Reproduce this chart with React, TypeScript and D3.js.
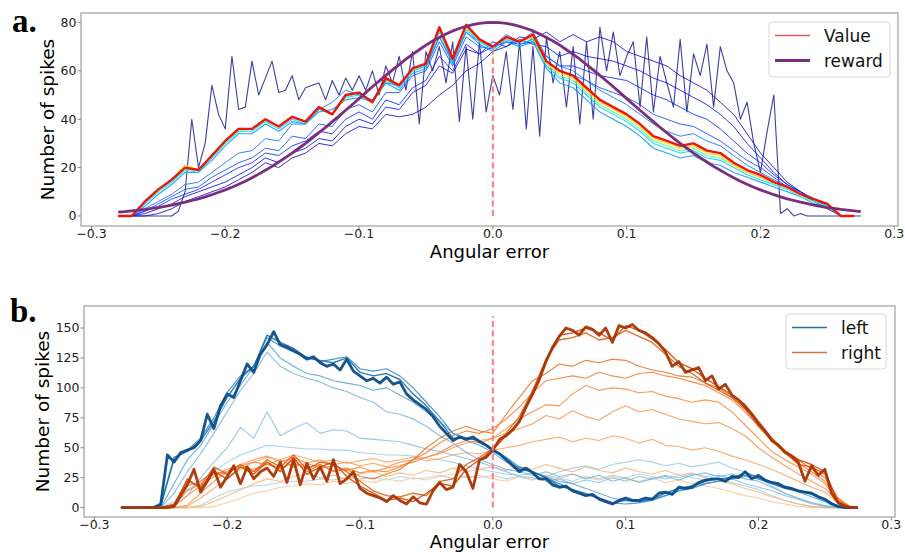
import React from "react";
import * as d3 from "d3";

const W = 905;
const H = 552;
const FONT = "DejaVu Sans, sans-serif";
const SERIF = "Liberation Serif, DejaVu Serif, serif";

// bins: coarse series every 0.01, fine series every 0.005, both from -0.28
const BIN_START = -0.28;
const COARSE = 0.01;
const FINE = 0.005;
const X_DOMAIN: [number, number] = [-0.3078, 0.3028];

const xTicks = [-0.3, -0.2, -0.1, 0.0, 0.1, 0.2, 0.3];
const spikeTicksA = [0, 20, 40, 60, 80];
const spikeTicksB = [0, 25, 50, 75, 100, 125, 150];

// ---- panel a: value curves over training (jet colours) ----
const valueNavy = [
  0, 0, 0, 0, 0, 0, 0, 0, 0, 2,
  10, 40, 20, 30, 54, 42, 36, 66, 44, 45,
  64, 50, 57, 64, 51, 52, 58, 48, 53, 54,
  55, 48, 56, 50, 57, 52, 58, 52, 60, 50,
  62, 55, 66, 52, 68, 38, 68, 60, 70, 55,
  72, 39, 70, 40, 72, 43, 58, 50, 68, 44,
  72, 36, 70, 33, 74, 55, 68, 45, 70, 38,
  72, 40, 78, 60, 76, 58, 66, 72, 45, 74,
  43, 66, 55, 45, 73, 43, 67, 58, 71, 45,
  70, 60, 55, 40, 47, 30, 18, 35, 50, 1,
  3, 0, 1, 0, 0, 0, 0, 0, 0, 0,
  0, 0,
];
const valueBlue1 = [
  0, 0, 0, 1, 3, 6, 8, 10, 12, 15,
  18, 22, 20, 24, 26, 30, 29, 34, 37, 36,
  42, 41, 42, 45, 50, 54, 60, 63, 68, 70,
  74, 73, 76, 72, 75, 72, 74, 72, 68, 66,
  64, 62, 58, 55, 52, 47, 42, 34, 26, 20,
  14, 10, 6, 3, 0, 0,
];
const valueBlue2 = [
  0, 0, 1, 3, 5, 8, 10, 12, 14, 17,
  20, 24, 22, 26, 28, 32, 31, 37, 40, 38,
  45, 44, 51, 54, 62, 59, 69, 67, 72, 70,
  73, 71, 70, 66, 68, 66, 65, 64, 62, 60,
  57, 55, 52, 49, 46, 42, 37, 30, 24, 18,
  13, 10, 6, 4, 0, 0,
];
const valueBlue3 = [
  0, 0, 2, 4, 7, 9, 11, 14, 17, 20,
  22, 26, 25, 29, 31, 35, 34, 40, 43, 40,
  48, 46, 53, 56, 66, 60, 71, 67, 70, 72,
  71, 72, 66, 62, 62, 60, 58, 57, 56, 53,
  50, 48, 45, 42, 40, 36, 31, 26, 22, 17,
  13, 10, 7, 4, 0, 0,
];
const valueBlue4 = [
  0, 0, 2, 5, 8, 11, 12, 16, 19, 22,
  24, 28, 27, 33, 32, 38, 37, 44, 46, 43,
  51, 51, 58, 60, 72, 62, 74, 70, 69, 73,
  71, 73, 64, 60, 58, 56, 53, 51, 49, 46,
  42, 40, 38, 37, 34, 31, 27, 23, 20, 16,
  12, 10, 7, 4, 0, 0,
];
const valueBlue5 = [
  0, 0, 3, 6, 9, 13, 14, 18, 22, 26,
  27, 32, 31, 38, 38, 44, 47, 52, 50, 48,
  55, 54, 60, 62, 74, 64, 76, 72, 70, 75,
  72, 76, 66, 62, 60, 56, 52, 49, 46, 42,
  38, 35, 33, 34, 31, 29, 25, 21, 18, 15,
  12, 9, 6, 4, 0, 0,
];
const valueLightBlue = [
  0, 0, 4, 9, 13, 18, 18, 23, 29, 34,
  34, 38, 35, 39, 38, 43, 44, 48, 49, 47,
  55, 52, 59, 61, 74, 63, 76, 71, 68, 72,
  70, 72, 61, 55, 53, 48, 43, 40, 37, 33,
  28, 26, 24, 25, 22, 21, 18, 16, 14, 12,
  10, 8, 5, 4, 0, 0,
];
const valueCyan = [
  0, 0, 5, 10, 14, 19, 18, 24, 30, 35,
  35, 39, 36, 40, 38, 44, 42, 49, 50, 47,
  56, 53, 60, 62, 76, 64, 77, 72, 69, 73,
  71, 73, 62, 57, 55, 50, 45, 42, 39, 35,
  30, 28, 26, 27, 24, 23, 20, 17, 15, 13,
  11, 8, 6, 4, 0, 0,
];
const valueGreen = [
  0, 0, 6, 10, 15, 19, 19, 25, 30, 35,
  36, 39, 37, 41, 39, 45, 42, 49, 51, 47,
  56, 54, 60, 63, 77, 65, 78, 72, 70, 73,
  72, 74, 63, 58, 56, 51, 46, 43, 40, 36,
  31, 29, 27, 28, 25, 24, 21, 18, 16, 13,
  11, 8, 6, 4, 0, 0,
];
const valueYellow = [
  0, 0, 6, 11, 15, 21, 19, 25, 31, 36,
  36, 40, 37, 41, 39, 45, 42, 50, 51, 47,
  57, 54, 61, 63, 78, 65, 78, 73, 70, 74,
  72, 74, 63, 59, 57, 52, 47, 44, 41, 37,
  32, 30, 28, 29, 26, 25, 21, 18, 16, 14,
  12, 9, 7, 5, 0, 0,
];
const valueRed = [
  0, 0, 6, 11, 15, 20, 19, 25, 31, 36,
  36, 40, 37, 41, 39, 45, 42, 50, 51, 47,
  57, 54, 61, 63, 78, 65, 79, 73, 70, 74,
  72, 75, 64, 60, 58, 53, 48, 45, 42, 38,
  33, 31, 29, 30, 27, 26, 22, 19, 17, 14,
  12, 9, 7, 5, 0, 0,
];
const rewardCurve = [
  1.6, 1.8, 2.1, 2.4, 2.7, 3.1, 3.5, 4.0, 4.5, 5.1,
  5.7, 6.4, 7.1, 7.9, 8.8, 9.8, 10.8, 11.9, 13.1, 14.4,
  15.8, 17.3, 18.9, 20.5, 22.3, 24.1, 26.0, 28.0, 30.0, 32.2,
  34.4, 36.6, 39.0, 41.3, 43.7, 46.1, 48.5, 51.0, 53.4, 55.8,
  58.1, 60.4, 62.6, 64.8, 66.8, 68.7, 70.6, 72.3, 73.8, 75.2,
  76.5, 77.5, 78.4, 79.1, 79.6, 79.9, 80.0, 79.9, 79.6, 79.1,
  78.4, 77.5, 76.5, 75.2, 73.8, 72.3, 70.6, 68.7, 66.8, 64.8,
  62.6, 60.4, 58.1, 55.8, 53.4, 51.0, 48.5, 46.1, 43.7, 41.3,
  39.0, 36.6, 34.4, 32.2, 30.0, 28.0, 26.0, 24.1, 22.3, 20.5,
  18.9, 17.3, 15.8, 14.4, 13.1, 11.9, 10.8, 9.8, 8.8, 7.9,
  7.1, 6.4, 5.7, 5.1, 4.5, 4.0, 3.5, 3.1, 2.7, 2.4,
  2.1, 1.8,
];

// ---- panel b: left / right neurons ----
const leftA = [
  0, 0, 0, 0, 0, 0, 2, 8, 13, 16,
  18, 19, 21, 22, 22, 24, 23, 25, 24, 25,
  23, 26, 24, 25, 27, 24, 26, 25, 27, 24,
  26, 23, 27, 25, 22, 26, 24, 27, 25, 28,
  26, 24, 27, 25, 23, 24, 21, 18, 15, 10,
  6, 3, 1, 0, 0, 0,
];
const leftB = [
  0, 0, 0, 0, 5, 15, 22, 30, 38, 44,
  48, 52, 51, 50, 49, 49, 48, 48, 46, 45,
  44, 44, 43, 41, 40, 38, 35, 32, 30, 28,
  27, 29, 26, 30, 33, 35, 32, 36, 38, 40,
  38, 35, 37, 34, 36, 38, 33, 30, 25, 18,
  12, 7, 3, 1, 0, 0,
];
const leftC = [
  0, 0, 0, 0, 2, 10, 25, 38, 50, 67,
  58, 80, 60, 66, 71, 62, 65, 64, 58, 57,
  56, 55, 52, 49, 47, 44, 41, 38, 34, 30,
  26, 25, 22, 24, 20, 23, 21, 25, 22, 26,
  24, 27, 25, 28, 26, 27, 24, 20, 17, 14,
  10, 7, 4, 2, 0, 0,
];
const leftD = [
  0, 0, 0, 0, 12, 30, 45, 62, 80, 98,
  112, 130, 118, 112, 108, 105, 100, 97, 92, 88,
  80, 78, 74, 68, 60, 54, 46, 40, 36, 32,
  30, 27, 30, 26, 28, 24, 27, 22, 25, 21,
  24, 26, 23, 27, 29, 26, 28, 24, 22, 17,
  12, 8, 4, 1, 0, 0,
];
const leftE = [
  0, 0, 0, 0, 20, 40, 52, 70, 88, 102,
  118, 138, 125, 118, 112, 110, 106, 104, 102, 98,
  100, 94, 88, 80, 72, 62, 56, 52, 46, 38,
  33, 30, 26, 22, 20, 16, 12, 8, 6, 5,
  7, 10, 14, 18, 20, 22, 24, 26, 24, 20,
  16, 13, 9, 5, 1, 0,
];
const leftF = [
  0, 0, 0, 1, 40, 48, 58, 75, 96, 110,
  118, 142, 135, 130, 126, 122, 124, 126, 116, 114,
  116, 110, 100, 88, 76, 62, 58, 56, 49, 42,
  34, 30, 25, 20, 15, 12, 8, 4, 3, 4,
  6, 10, 14, 16, 20, 22, 24, 27, 24, 20,
  16, 14, 11, 6, 1, 0,
];
const leftG = [
  0, 0, 0, 2, 42, 47, 56, 72, 92, 108,
  118, 144, 138, 133, 125, 123, 121, 125, 113, 110,
  112, 107, 95, 85, 72, 58, 58, 56, 48, 41,
  32, 30, 25, 18, 15, 11, 8, 4, 6, 5,
  7, 12, 16, 18, 22, 24, 25, 29, 25, 21,
  17, 14, 12, 7, 1, 0,
];
const leftFinal = [
  0, 0, 0, 0, 0, 0, 3, 44, 38, 46,
  48, 50, 56, 78, 66, 85, 95, 92, 106, 120,
  113, 128, 136, 147, 136, 134, 131, 128, 124, 126,
  121, 118, 120, 115, 124, 114, 110, 106, 108, 104,
  109, 103, 105, 95, 90, 86, 82, 76, 68, 62,
  56, 59, 57, 59, 55, 52, 48, 45, 40, 35,
  30, 33, 29, 24, 24, 19, 17, 18, 14, 12,
  10, 11, 7, 5, 3, 6, 8, 6, 6, 8,
  7, 12, 13, 11, 17, 16, 17, 21, 23, 24,
  24, 22, 26, 25, 30, 24, 27, 23, 21, 20,
  17, 16, 14, 13, 12, 9, 7, 3, 1, 0,
  0, 0,
];
const rightA = [
  0, 0, 0, 0, 0, 0, 0, 1, 4, 8,
  12, 14, 17, 18, 20, 19, 22, 20, 23, 21,
  24, 22, 25, 23, 26, 28, 25, 27, 24, 22,
  26, 23, 27, 24, 28, 25, 23, 26, 24, 22,
  25, 21, 23, 20, 18, 16, 13, 10, 8, 5,
  3, 1, 0, 0, 0, 0,
];
const rightB = [
  0, 0, 0, 0, 0, 0, 1, 5, 10, 15,
  20, 24, 22, 26, 28, 25, 27, 24, 28, 30,
  26, 29, 27, 31, 29, 33, 30, 32, 34, 31,
  34, 32, 36, 33, 30, 34, 31, 29, 33, 30,
  28, 31, 27, 29, 25, 22, 20, 16, 13, 9,
  6, 3, 1, 0, 0, 0,
];
const rightC = [
  0, 0, 0, 0, 0, 1, 8, 16, 24, 32,
  38, 42, 40, 44, 41, 38, 40, 37, 39, 41,
  38, 40, 42, 39, 41, 44, 46, 45, 48, 50,
  52, 55, 57, 59, 55, 58, 56, 60, 58, 54,
  57, 52, 51, 48, 50, 47, 43, 40, 36, 32,
  27, 22, 17, 13, 4, 0,
];
const rightD = [
  0, 0, 0, 0, 0, 2, 12, 22, 30, 36,
  40, 43, 38, 42, 37, 40, 36, 38, 35, 37,
  34, 38, 40, 42, 45, 50, 54, 56, 58, 62,
  66, 70, 77, 74, 81, 76, 73, 80, 85, 80,
  82, 78, 74, 72, 70, 71, 66, 60, 50, 42,
  35, 28, 22, 16, 5, 0,
];
const rightE = [
  0, 0, 0, 0, 1, 10, 18, 26, 32, 35,
  38, 36, 40, 34, 37, 33, 35, 31, 34, 30,
  33, 35, 38, 42, 46, 52, 56, 54, 58, 66,
  74, 80, 86, 85, 95, 102, 98, 100, 99, 96,
  97, 93, 91, 88, 90, 88, 80, 69, 58, 47,
  40, 34, 28, 20, 6, 0,
];
const rightF = [
  0, 0, 0, 0, 2, 14, 20, 28, 30, 34,
  32, 36, 33, 37, 33, 36, 31, 33, 29, 31,
  30, 34, 40, 46, 54, 60, 64, 62, 66, 74,
  84, 96, 106, 108, 110, 108, 113, 110, 108, 112,
  113, 110, 108, 105, 102, 96, 90, 80, 68, 56,
  46, 37, 30, 22, 7, 0,
];
const rightG = [
  0, 0, 0, 0, 3, 18, 22, 30, 28, 36,
  30, 38, 32, 40, 30, 36, 30, 32, 26, 24,
  28, 32, 40, 50, 58, 64, 68, 64, 62, 78,
  92, 106, 112, 120, 118, 123, 121, 124, 123, 118,
  115, 113, 110, 109, 104, 100, 92, 84, 70, 58,
  48, 40, 32, 25, 8, 0,
];
const rightH = [
  0, 0, 0, 0, 3, 22, 18, 34, 28, 36,
  30, 40, 34, 44, 32, 38, 36, 30, 22, 14,
  10, 9, 12, 10, 22, 24, 36, 42, 49, 62,
  76, 98, 124, 140, 142, 146, 140, 142, 148, 143,
  138, 128, 118, 112, 104, 98, 92, 82, 68, 56,
  46, 36, 34, 28, 4, 0,
];
const rightI = [
  0, 0, 0, 0, 2, 24, 16, 30, 24, 34,
  28, 38, 30, 42, 28, 34, 38, 26, 18, 12,
  6, 8, 5, 12, 20, 18, 32, 40, 48, 60,
  72, 95, 122, 144, 146, 150, 146, 140, 152, 148,
  141, 132, 121, 116, 108, 101, 94, 86, 72, 58,
  47, 40, 36, 30, 5, 0,
];
const rightFinal = [
  0, 0, 0, 0, 0, 0, 0, 0, 1, 10,
  19, 32, 13, 22, 32, 17, 26, 35, 20, 34,
  24, 30, 33, 26, 38, 21, 40, 19, 37, 24,
  34, 22, 40, 20, 24, 30, 16, 12, 10, 8,
  5, 10, 6, 3, 9, 4, 3, 14, 21, 15,
  17, 36, 30, 16, 40, 42, 48, 57, 60, 65,
  72, 84, 95, 107, 122, 134, 143, 150, 148, 144,
  151, 149, 144, 150, 138, 152, 150, 153, 148, 146,
  142, 137, 130, 118, 122, 113, 115, 117, 106, 110,
  99, 103, 94, 90, 84, 78, 70, 64, 56, 52,
  46, 43, 38, 22, 35, 27, 32, 12, 4, 1,
  0, 0,
];

type Series = { data: number[]; step: number; color: string; width: number; opacity: number };

const panelASeries: Series[] = [
  { data: valueNavy, step: FINE, color: "#1c1c90", width: 1.1, opacity: 0.85 },
  { data: valueBlue1, step: COARSE, color: "#0000c8", width: 1, opacity: 0.8 },
  { data: valueBlue2, step: COARSE, color: "#0000f0", width: 1, opacity: 0.8 },
  { data: valueBlue3, step: COARSE, color: "#0018ff", width: 1, opacity: 0.8 },
  { data: valueBlue4, step: COARSE, color: "#0040ff", width: 1, opacity: 0.8 },
  { data: valueBlue5, step: COARSE, color: "#0068ff", width: 1, opacity: 0.8 },
  { data: valueLightBlue, step: COARSE, color: "#0094ff", width: 1.1, opacity: 0.85 },
  { data: valueCyan, step: COARSE, color: "#00ccff", width: 1.1, opacity: 0.85 },
  { data: valueGreen, step: COARSE, color: "#4cffa8", width: 1.1, opacity: 0.9 },
  { data: valueYellow, step: COARSE, color: "#ffd800", width: 1.3, opacity: 0.9 },
  { data: valueRed, step: COARSE, color: "#ee0a00", width: 2.4, opacity: 0.95 },
];
const rewardSeries: Series = { data: rewardCurve, step: FINE, color: "#7b2d7e", width: 2.8, opacity: 1 };

const panelBSeries: Series[] = [
  { data: leftA, step: COARSE, color: "#a9d4ec", width: 1.1, opacity: 0.9 },
  { data: rightA, step: COARSE, color: "#fdc895", width: 1.1, opacity: 0.9 },
  { data: leftB, step: COARSE, color: "#9ccdea", width: 1.1, opacity: 0.9 },
  { data: rightB, step: COARSE, color: "#fdb67c", width: 1.1, opacity: 0.9 },
  { data: leftC, step: COARSE, color: "#8ac3e4", width: 1.1, opacity: 0.9 },
  { data: rightC, step: COARSE, color: "#fda566", width: 1.1, opacity: 0.9 },
  { data: leftD, step: COARSE, color: "#78b8df", width: 1.1, opacity: 0.9 },
  { data: rightD, step: COARSE, color: "#fd9852", width: 1.1, opacity: 0.9 },
  { data: leftE, step: COARSE, color: "#5aa6d5", width: 1.1, opacity: 0.9 },
  { data: rightE, step: COARSE, color: "#fb8b40", width: 1.1, opacity: 0.9 },
  { data: rightF, step: COARSE, color: "#f78032", width: 1.1, opacity: 0.9 },
  { data: rightG, step: COARSE, color: "#f17326", width: 1.1, opacity: 0.9 },
  { data: leftF, step: COARSE, color: "#3a8dc5", width: 1.2, opacity: 0.9 },
  { data: rightH, step: COARSE, color: "#e45d12", width: 1.3, opacity: 0.9 },
  { data: leftG, step: COARSE, color: "#1c6dac", width: 1.4, opacity: 0.9 },
  { data: rightI, step: COARSE, color: "#d04c08", width: 1.4, opacity: 0.9 },
  { data: leftFinal, step: FINE, color: "#0b4c88", width: 2.8, opacity: 0.95 },
  { data: rightFinal, step: FINE, color: "#a83504", width: 2.8, opacity: 0.95 },
];

type Frame = { left: number; right: number; top: number; bottom: number };
type LegendItem = { label: string; color: string; width: number };

const fmtTick = (v: number) => (v < 0 ? "\u2212" : "") + Math.abs(v).toFixed(1);

function Panel(props: {
  frame: Frame;
  yDomain: [number, number];
  yTicks: number[];
  series: Series[];
  dashTop: number;
  tag: string;
  tagPos: [number, number];
  yLabelX: number;
  xLabelY: number;
  legendBox: { x: number; y: number; w: number; h: number };
  legend: LegendItem[];
}) {
  const { frame, yDomain, yTicks, series, dashTop, tag, tagPos, yLabelX, xLabelY, legendBox, legend } = props;
  const x = d3.scaleLinear().domain(X_DOMAIN).range([frame.left, frame.right]);
  const y = d3.scaleLinear().domain(yDomain).range([frame.bottom, frame.top]);
  const pathFor = (s: Series) =>
    d3
      .line<number>()
      .x((_, i) => x(BIN_START + i * s.step))
      .y((d) => y(d))(s.data) || "";
  const midY = (frame.top + frame.bottom) / 2;
  const midX = (frame.left + frame.right) / 2;

  return (
    <g>
      <text x={tagPos[0]} y={tagPos[1]} fontFamily={SERIF} fontWeight="bold" fontSize={33} fill="#000">
        {tag}
      </text>
      {series.map((s, i) => (
        <path key={i} d={pathFor(s)} fill="none" stroke={s.color} strokeWidth={s.width} strokeOpacity={s.opacity} strokeLinejoin="round" />
      ))}
      <line x1={x(0)} x2={x(0)} y1={y(0)} y2={y(dashTop)} stroke="#ff7d7d" strokeWidth={2} strokeDasharray="6,3.5" />
      <rect x={frame.left} y={frame.top} width={frame.right - frame.left} height={frame.bottom - frame.top} fill="none" stroke="#a6a6a6" strokeWidth={1.3} />
      {xTicks.map((t) => (
        <g key={t}>
          <line x1={x(t)} x2={x(t)} y1={frame.bottom} y2={frame.bottom + 3.5} stroke="#888" strokeWidth={1} />
          <text x={x(t)} y={frame.bottom + 11.5} textAnchor="middle" fontFamily={FONT} fontSize={12.5} fill="#222">
            {fmtTick(t)}
          </text>
        </g>
      ))}
      {yTicks.map((t) => (
        <g key={t}>
          <line x1={frame.left - 3.5} x2={frame.left} y1={y(t)} y2={y(t)} stroke="#888" strokeWidth={1} />
          <text x={frame.left - 4.5} y={y(t)} dy="0.35em" textAnchor="end" fontFamily={FONT} fontSize={12.5} fill="#222">
            {t}
          </text>
        </g>
      ))}
      <text x={midX} y={xLabelY} textAnchor="middle" fontFamily={FONT} fontSize={18} fill="#000">
        Angular error
      </text>
      <text transform={`translate(${yLabelX},${midY}) rotate(-90)`} textAnchor="middle" fontFamily={FONT} fontSize={18.5} fill="#000">
        Number of spikes
      </text>
      <rect x={legendBox.x} y={legendBox.y} width={legendBox.w} height={legendBox.h} rx={3} fill="#fff" fillOpacity={0.85} stroke="#d9d9d9" strokeWidth={1} />
      {legend.map((item, i) => {
        const cy = legendBox.y + 13.5 + i * 25;
        return (
          <g key={item.label}>
            <line x1={legendBox.x + 6} x2={legendBox.x + 41} y1={cy} y2={cy} stroke={item.color} strokeWidth={item.width} />
            <text x={legendBox.x + 55} y={cy + 6} fontFamily={FONT} fontSize={17} fill="#111">
              {item.label}
            </text>
          </g>
        );
      })}
    </g>
  );
}

export default function App() {
  const frameA: Frame = { left: 81, right: 898, top: 13, bottom: 226 };
  const frameB: Frame = { left: 84, right: 895, top: 306, bottom: 517 };
  return (
    <div style={{ position: "absolute", left: 0, top: 0 }}>
      <svg width={W} height={H} style={{ display: "block", background: "#fff" }}>
        <Panel
          frame={frameA}
          yDomain={[-4.14, 83.9]}
          yTicks={spikeTicksA}
          series={[...panelASeries, rewardSeries]}
          dashTop={70}
          tag="a."
          tagPos={[12, 32]}
          yLabelX={54}
          xLabelY={258}
          legendBox={{ x: 769, y: 22, w: 121, h: 55 }}
          legend={[
            { label: "Value", color: "#e05a5a", width: 1.3 },
            { label: "reward", color: "#7b2d7e", width: 3 },
          ]}
        />
        <Panel
          frame={frameB}
          yDomain={[-7.85, 168.4]}
          yTicks={spikeTicksB}
          series={panelBSeries}
          dashTop={160}
          tag="b."
          tagPos={[10, 322]}
          yLabelX={49}
          xLabelY={548}
          legendBox={{ x: 786, y: 314, w: 100, h: 55 }}
          legend={[
            { label: "left", color: "#2f6ea7", width: 1.6 },
            { label: "right", color: "#d46f44", width: 1.6 },
          ]}
        />
      </svg>
    </div>
  );
}
